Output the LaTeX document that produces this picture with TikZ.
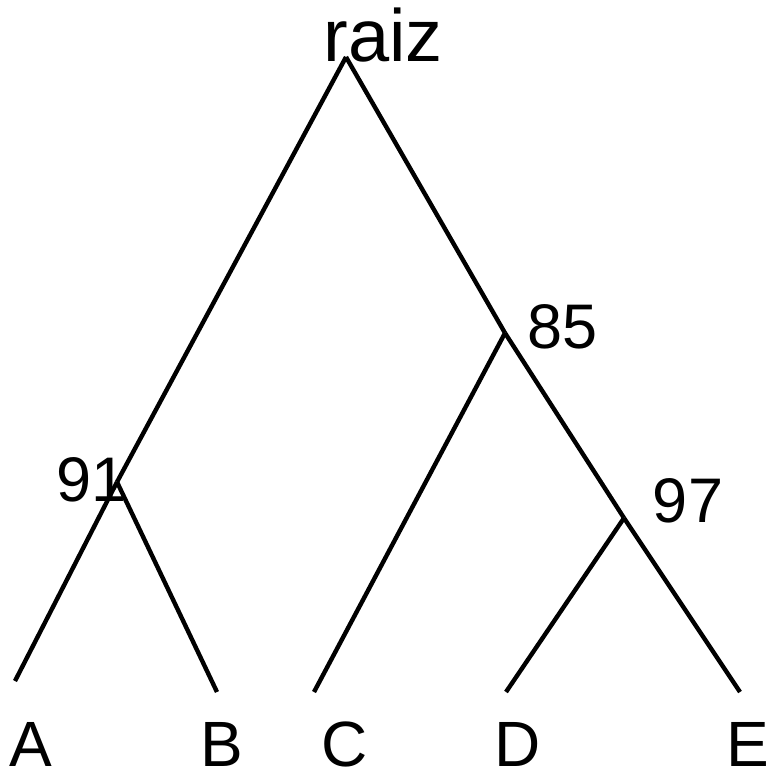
\documentclass[tikz,border=0pt]{standalone}
\usepackage{fontspec}
\setmainfont{Liberation Sans}
\usepackage{tikz}
\usetikzlibrary{positioning}

\tikzset{
  branch/.style={line width=4.4pt, black},
  tiplabel/.style={anchor=base, inner sep=0pt, text depth=0pt, font=\fontsize{64}{70}\selectfont},
  support/.style={anchor=base, inner sep=0pt, font=\fontsize{63}{70}\selectfont},
  rootlabel/.style={anchor=base, inner sep=0pt, font=\fontsize{74}{80}\selectfont}
}

\begin{document}
\begin{tikzpicture}[x=1pt, y=-1pt]
  \useasboundingbox (0,0) rectangle (765,770);

  % tree points
  \coordinate (root) at (346,57);
  \coordinate (n91) at (117,482);
  \coordinate (n85) at (505,333);
  \coordinate (n97) at (624,518);
  \foreach \t/\x/\y in {A/15/681, B/217/692, C/314/692, D/506/692, E/740/692}{
    \coordinate (tip\t) at (\x,\y);
  }

  % branches
  \foreach \a/\b in {root/n91, root/n85, n91/tipA, n91/tipB,
                     n85/tipC, n85/n97, n97/tipD, n97/tipE}{
    \draw[branch] (\a) -- (\b);
  }

  % labels
  \node[rootlabel] (lblroot) at (383,62) {raiz};
  \node[support] (lbl91) at (92,501) {91};
  \node[support] (lbl85) at (563,348) {85};
  \node[support] (lbl97) at (688,522) {97};
  \foreach \t/\x in {A/31, B/222, C/345, D/518, E/748}{
    \node[tiplabel] (lbl\t) at (\x,766) {\t};
  }
\end{tikzpicture}
\end{document}
